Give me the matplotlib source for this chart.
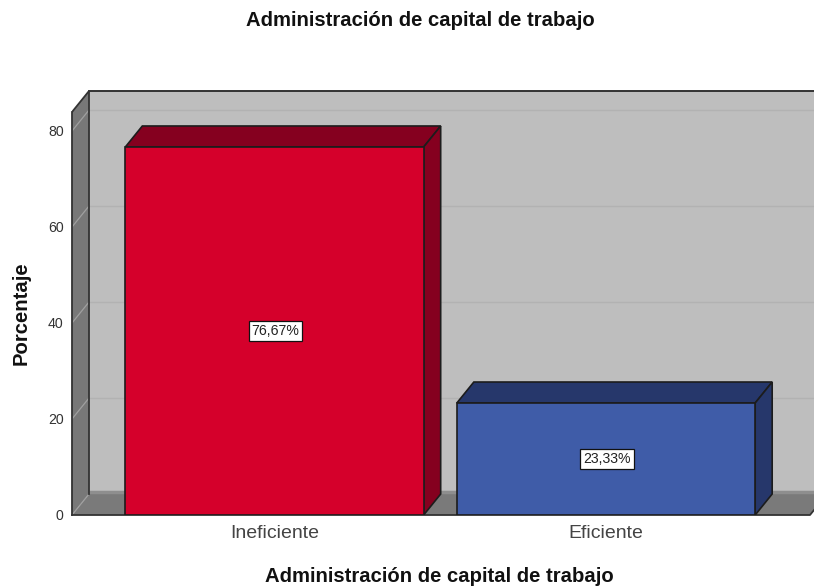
import matplotlib
matplotlib.use("Agg")
import matplotlib.pyplot as plt
from matplotlib.patches import Polygon

plt.rcParams['font.family'] = ['Liberation Sans', 'DejaVu Sans']

categories = ["Ineficiente", "Eficiente"]
values = [76.67, 23.33]
value_labels = ["76,67%", "23,33%"]
y_ticks = [0, 20, 40, 60, 80]
title = "Administración de capital de trabajo"
x_label = "Administración de capital de trabajo"
y_label = "Porcentaje"

FRONT = ["#D5002B", "#3F5CA8"]
DARK = ["#85001F", "#26376B"]
EDGE = "#1c1c1c"

W, H = 814, 587
fig = plt.figure(figsize=(W / 100, H / 100), dpi=100)
fig.patch.set_facecolor("white")
ax = fig.add_axes([72 / W, 1 - 515 / H, (W - 72) / W, (515 - 91) / H])

px_x = 331.5
px_y = 4.8
x_left = -202.5 / px_x
x_right = x_left + (W - 72) / px_x
y_top = (515 - 91) / px_y
ax.set_xlim(x_left, x_right)
ax.set_ylim(0, y_top)
dx = 17 / px_x
dy = 21 / px_y
floor_right = x_left + (810 - 72) / px_x


def poly(points, fc, ec="none", lw=0.0, z=1):
    ax.add_patch(Polygon(points, closed=True, facecolor=fc, edgecolor=ec,
                         linewidth=lw, zorder=z, joinstyle="miter", clip_on=True))


# back wall, left wall, floor
poly([(x_left + dx, dy), (x_right, dy), (x_right, y_top), (x_left + dx, y_top)], "#BEBEBE", z=1)
poly([(x_left, 0), (x_left + dx, dy), (x_left + dx, y_top), (x_left, y_top - dy)], "#787878", z=1)
poly([(x_left, 0), (floor_right, 0), (floor_right + dx, dy), (x_left + dx, dy)], "#7A7A7A", z=1)
ax.plot([x_left + dx, x_right], [dy + 0.35, dy + 0.35], color="#8E8E8E", lw=2.5, zorder=1.5,
        solid_capstyle="butt")

# gridlines
for t in y_ticks[1:]:
    ax.plot([x_left + dx, x_right], [t + dy, t + dy], color="#B2B2B2", lw=1.0, zorder=1.6)
for t in y_ticks:
    ax.plot([x_left, x_left + dx], [t, t + dy], color="#A0A0A0", lw=0.9, zorder=1.6)

# frame lines
ax.plot([x_left + dx, x_right], [y_top, y_top], color="#333333", lw=1.4, zorder=2, clip_on=False)
ax.plot([x_left + dx, x_left + dx], [dy, y_top], color="#333333", lw=1.3, zorder=2)
ax.plot([x_left, x_left + dx], [y_top - dy, y_top], color="#333333", lw=1.3, zorder=2)
ax.plot([x_left, x_left], [0, y_top - dy], color="#333333", lw=1.3, zorder=2, clip_on=False)
ax.plot([x_left, floor_right, floor_right + dx], [0, 0, dy], color="#333333", lw=1.3, zorder=2, clip_on=False)

# bars
bar_w = 0.9
for i, (v, f, d, lab) in enumerate(zip(values, FRONT, DARK, value_labels)):
    l, r = i - bar_w / 2, i + bar_w / 2
    poly([(l, v), (r, v), (r + dx, v + dy), (l + dx, v + dy)], d, EDGE, 1.2, 3)
    poly([(r, 0), (r + dx, dy), (r + dx, v + dy), (r, v)], d, EDGE, 1.2, 3)
    poly([(l, 0), (r, 0), (r, v), (l, v)], f, EDGE, 1.2, 4)
    ax.text(i + 0.003, v / 2, lab, ha="center", va="center", fontsize=10.2, color="#222222", zorder=5,
            bbox=dict(boxstyle="square,pad=0.2", facecolor="white", edgecolor="#111111", linewidth=0.9))

ax.set_xticks(range(len(categories)))
ax.set_xticklabels(categories, fontsize=14, color="#444444")
ax.set_yticks(y_ticks)
ax.set_yticklabels([str(t) for t in y_ticks], fontsize=10.2, color="#333333")
ax.tick_params(axis="both", length=0)
ax.tick_params(axis="x", pad=7)
ax.tick_params(axis="y", pad=6)
for s in ax.spines.values():
    s.set_visible(False)

fig.text(420 / W, 1 - 21 / H, title, ha="center", va="center", fontsize=14.6, fontweight="bold", color="#111111")
fig.text(439 / W, 1 - 576 / H, x_label, ha="center", va="center", fontsize=14.6, fontweight="bold", color="#111111")
fig.text(21 / W, 1 - 313 / H, y_label, ha="center", va="center", rotation=90, fontsize=14.6, fontweight="bold", color="#111111")

fig.savefig("out.png", dpi=100)
